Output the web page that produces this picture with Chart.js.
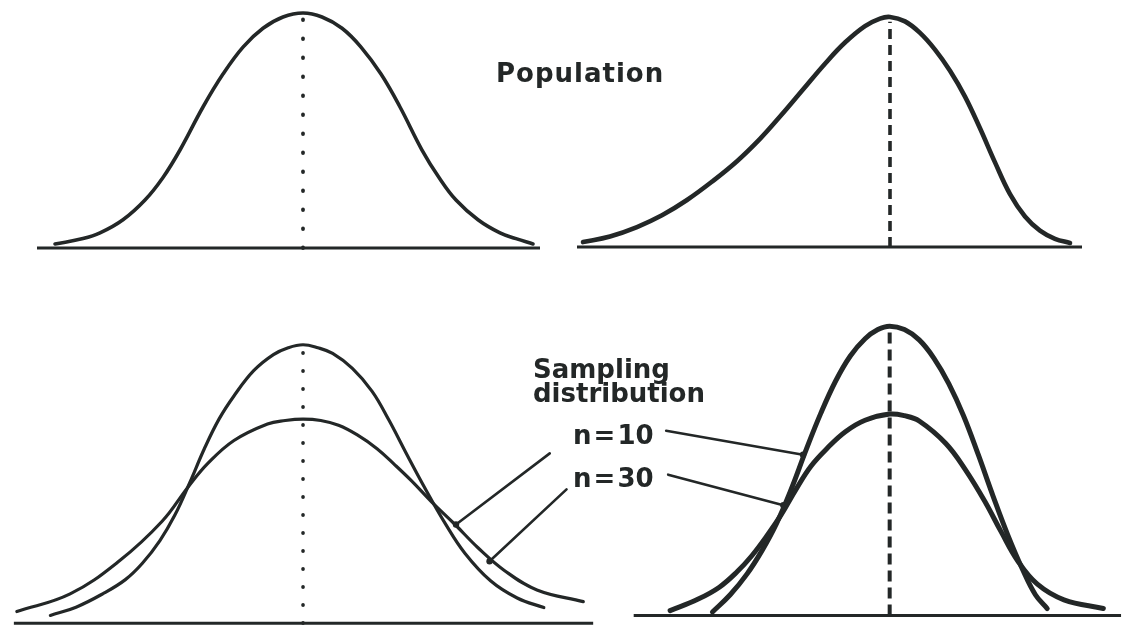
<!DOCTYPE html>
<html>
<head>
<meta charset="utf-8">
<script src="https://cdn.jsdelivr.net/npm/chart.js@4.4.1/dist/chart.umd.min.js"></script>
<style>
  html, body { margin: 0; padding: 0; background: #ffffff; }
  #wrap { position: relative; width: 1128px; height: 637px; overflow: hidden; background: #ffffff; }
  #wrap canvas { position: absolute; }
  .lbl { position: absolute; font-family: "DejaVu Sans", "Liberation Sans", sans-serif; font-weight: bold;
         font-size: 26px; line-height: 26px; color: #232727; white-space: nowrap; }
</style>
</head>
<body>
<div id="wrap">
  <canvas id="tl"></canvas>
  <canvas id="tr"></canvas>
  <canvas id="bl"></canvas>
  <canvas id="br"></canvas>
  <div class="lbl" style="left:496px;top:60px;letter-spacing:1px;">Population</div>
  <div class="lbl" style="left:533px;top:357px;line-height:24px;">Sampling<br>distribution</div>
  <div class="lbl" style="left:573px;top:422px;word-spacing:-7px;">n = 10</div>
  <div class="lbl" style="left:573px;top:465px;word-spacing:-7px;">n = 30</div>
</div>
<script>
// ---------- DATA (x in standard units from the centre, y = relative density) ----------
// Top-left: symmetric population
const popNormalX = [-2.48, -2.20, -2.03, -1.80, -1.58, -1.40, -1.23, -1.00, -0.80, -0.60, -0.40, -0.20, 0,
                    0.19, 0.39, 0.58, 0.78, 0.97, 1.19, 1.36, 1.53, 1.75, 1.97, 2.13, 2.30];
const popNormalY = [0.017, 0.040, 0.064, 0.120, 0.204, 0.300, 0.417, 0.600, 0.740, 0.855, 0.935, 0.983, 1.000,
                    0.983, 0.935, 0.855, 0.740, 0.600, 0.417, 0.300, 0.204, 0.120, 0.064, 0.040, 0.017];

// Top-right: skewed population
const popSkewX = [-3.07, -2.80, -2.53, -2.28, -2.03, -1.78, -1.53, -1.30, -1.10, -0.87, -0.65, -0.45, -0.25, -0.10, 0,
                  0.15, 0.30, 0.45, 0.60, 0.75, 0.90, 1.05, 1.20, 1.35, 1.50, 1.65, 1.80];
const popSkewY = [0.021, 0.045, 0.085, 0.135, 0.200, 0.278, 0.365, 0.460, 0.555, 0.670, 0.780, 0.870, 0.940, 0.972, 0.979,
                  0.960, 0.911, 0.840, 0.750, 0.640, 0.505, 0.360, 0.225, 0.130, 0.070, 0.035, 0.017];

// Bottom-left: sampling distributions from the symmetric population
const sampNormN30X = [-2.56, -2.30, -2.03, -1.80, -1.63, -1.45, -1.30, -1.15, -1.00, -0.85, -0.70, -0.50, -0.30, -0.15, 0,
                      0.15, 0.30, 0.50, 0.70, 0.87, 1.04, 1.24, 1.44, 1.64, 1.90, 2.17, 2.44];
const sampNormN30Y = [0.034, 0.070, 0.128, 0.190, 0.260, 0.360, 0.470, 0.610, 0.760, 0.890, 0.990, 1.100, 1.170, 1.200, 1.213,
                      1.200, 1.175, 1.110, 1.010, 0.885, 0.745, 0.585, 0.435, 0.305, 0.185, 0.110, 0.068];
const sampNormN10X = [-2.90, -2.36, -1.86, -1.43, -1.16, -0.96, -0.70, -0.36, -0.18, 0,
                      0.18, 0.36, 0.55, 0.75, 0.93, 1.10, 1.30, 1.54, 1.77, 2.04, 2.37, 2.84];
const sampNormN10Y = [0.051, 0.128, 0.272, 0.443, 0.596, 0.698, 0.796, 0.868, 0.883, 0.889,
                      0.883, 0.862, 0.820, 0.760, 0.690, 0.620, 0.530, 0.430, 0.330, 0.230, 0.145, 0.094];

// Bottom-right: sampling distributions from the skewed population
const sampSkewN30X = [-1.80, -1.62, -1.45, -1.30, -1.15, -1.00, -0.85, -0.70, -0.55, -0.40, -0.25, -0.12, 0,
                      0.15, 0.30, 0.45, 0.60, 0.75, 0.90, 1.05, 1.20, 1.35, 1.48, 1.60];
const sampSkewN30Y = [0.015, 0.090, 0.180, 0.280, 0.400, 0.550, 0.720, 0.880, 1.020, 1.130, 1.205, 1.245, 1.260,
                      1.245, 1.200, 1.120, 1.010, 0.870, 0.700, 0.520, 0.350, 0.200, 0.090, 0.030];
const sampSkewN10X = [-2.23, -1.95, -1.73, -1.55, -1.40, -1.25, -1.10, -0.95, -0.80, -0.63, -0.45, -0.25, 0,
                      0.15, 0.30, 0.57, 0.77, 0.97, 1.13, 1.30, 1.50, 1.77, 2.17];
const sampSkewN10Y = [0.021, 0.070, 0.123, 0.190, 0.260, 0.345, 0.440, 0.550, 0.650, 0.730, 0.800, 0.850, 0.877,
                      0.870, 0.847, 0.749, 0.634, 0.494, 0.366, 0.238, 0.136, 0.068, 0.030];

// Horizontal axis extents for each panel
const tlAxisX = [-2.66, 2.37];
const trAxisX = [-3.13, 1.92];
const blAxisX = [-2.93, 2.94];
const brAxisX = [-2.60, 2.35];

// Leader lines from the labels (start, tip)
const blArrowN10X = [2.50, 1.55], blArrowN10Y = [0.740, 0.43];
const blArrowN30X = [2.67, 1.89], blArrowN30Y = [0.583, 0.27];
const brArrowN10X = [-2.27, -0.88], brArrowN10Y = [0.804, 0.70];
const brArrowN30X = [-2.25, -1.08], brArrowN30Y = [0.613, 0.48];

// ---------- DRAWING ----------
const INK = '#232727';
const PX_PER_X = 100, PX_PER_Y = 235;

function pts(xs, ys) { return xs.map((x, i) => ({ x: x, y: ys[i] })); }
function curve(xs, ys, w) {
  return { data: pts(xs, ys), showLine: true, borderColor: INK, borderWidth: w, pointRadius: 0,
           tension: 0.4, fill: false, clip: false, borderCapStyle: 'round', borderJoinStyle: 'round' };
}
function straight(xs, ys, w, dash, cap) {
  return { data: pts(xs, ys), showLine: true, borderColor: INK, borderWidth: w, pointRadius: 0,
           borderDash: dash || [], borderCapStyle: cap || 'butt', tension: 0, fill: false, clip: false };
}
function arrow(xs, ys) {
  const d = straight(xs, ys, 2.6, [], 'round');
  d.pointRadius = [0, 3.2];
  d.pointBackgroundColor = INK;
  d.pointBorderColor = INK;
  d.pointBorderWidth = 0;
  return d;
}
function maxOf(a) { return Math.max.apply(null, a); }

function panel(id, box, centerPx, baselinePx, datasets) {
  const c = document.getElementById(id);
  c.width = box.w; c.height = box.h;
  c.style.left = box.x + 'px'; c.style.top = box.y + 'px';
  c.style.width = box.w + 'px'; c.style.height = box.h + 'px';
  new Chart(c, {
    type: 'scatter',
    data: { datasets: datasets },
    options: {
      responsive: false, animation: false, devicePixelRatio: 1, events: [],
      layout: { padding: 0 },
      plugins: { legend: { display: false }, tooltip: { enabled: false }, title: { display: false } },
      scales: {
        x: { type: 'linear', display: false,
             min: (box.x - centerPx) / PX_PER_X, max: (box.x + box.w - centerPx) / PX_PER_X },
        y: { type: 'linear', display: false,
             min: -(box.y + box.h - baselinePx) / PX_PER_Y, max: (baselinePx - box.y) / PX_PER_Y }
      }
    }
  });
}

// Top-left
panel('tl', { x: 0, y: 0, w: 564, h: 290 }, 303, 248, [
  curve(popNormalX, popNormalY, 3.6),
  straight(tlAxisX, [0, 0], 3),
  straight([0, 0], [0, maxOf(popNormalY) - 0.02], 3.8, [0.5, 18.5], 'round')
]);

// Top-right
panel('tr', { x: 564, y: 0, w: 564, h: 290 }, 890, 247, [
  curve(popSkewX, popSkewY, 4.6),
  straight(trAxisX, [0, 0], 3),
  straight([0, 0], [0, maxOf(popSkewY) - 0.02], 3.6, [10, 6])
]);

// Bottom-left
panel('bl', { x: 0, y: 290, w: 610, h: 347 }, 303, 627, [
  curve(sampNormN30X, sampNormN30Y, 3.2),
  curve(sampNormN10X, sampNormN10Y, 3.2),
  straight(blAxisX, [0, 0], 3),
  straight([0, 0], [0, maxOf(sampNormN30Y) - 0.02], 3.6, [0.5, 17.5], 'round'),
  arrow(blArrowN10X, blArrowN10Y),
  arrow(blArrowN30X, blArrowN30Y)
]);

// Bottom-right
panel('br', { x: 610, y: 290, w: 518, h: 347 }, 890, 619, [
  curve(sampSkewN30X, sampSkewN30Y, 5),
  curve(sampSkewN10X, sampSkewN10Y, 5),
  straight(brAxisX, [0, 0], 3),
  straight([0, 0], [0, maxOf(sampSkewN30Y) - 0.02], 4, [11, 6]),
  arrow(brArrowN10X, brArrowN10Y),
  arrow(brArrowN30X, brArrowN30Y)
]);
</script>
</body>
</html>
